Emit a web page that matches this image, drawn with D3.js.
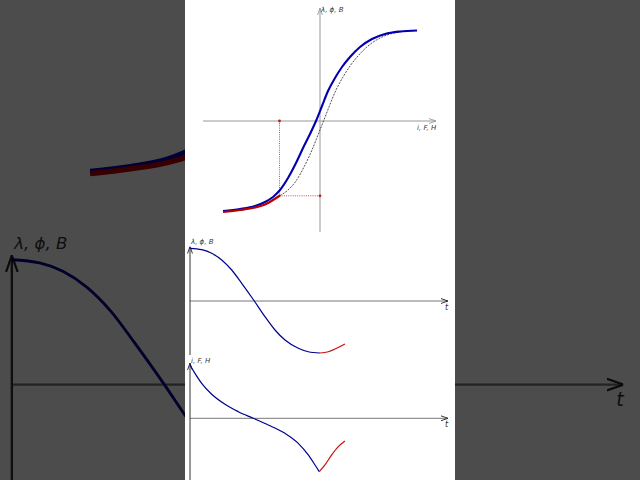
<!DOCTYPE html>
<html>
<head>
<meta charset="utf-8">
<script src="https://cdn.jsdelivr.net/npm/d3@7"></script>
<style>
  html, body { margin: 0; padding: 0; background: #4d4d4d; }
  svg { display: block; }
  text { font-family: "DejaVu Sans", sans-serif; font-style: italic; fill: #333; }
</style>
</head>
<body>
<svg id="chart" width="640" height="480"></svg>
<script>
// magnetisation curve, flux vs current (H in units, B in units)
var curveH  = [-0.97,-0.80,-0.65,-0.55,-0.47,-0.40,-0.32,-0.24,-0.16,-0.10,-0.04,0.02,0.08,0.15,0.22,0.30,0.40,0.52,0.65,0.80,0.97];
var curveB  = [-0.90,-0.88,-0.85,-0.81,-0.76,-0.69,-0.57,-0.42,-0.25,-0.13,0.00,0.15,0.30,0.43,0.54,0.64,0.74,0.82,0.87,0.895,0.905];
// initial (red) branch
var startH  = [-0.97,-0.80,-0.65,-0.55,-0.47,-0.40];
var startB  = [-0.91,-0.89,-0.865,-0.835,-0.79,-0.745];
// dashed reference curve
var dashH   = [-0.40,-0.32,-0.24,-0.16,-0.08,-0.02,0.035,0.09,0.16,0.23,0.30,0.38,0.48,0.60,0.74,0.94];
var dashB   = [-0.745,-0.69,-0.60,-0.46,-0.29,-0.14,0.00,0.14,0.31,0.44,0.55,0.65,0.75,0.83,0.88,0.903];
// operating point
var markH = -0.405, markB = -0.748;

// flux over time
var fluxT    = [0,0.09,0.167,0.244,0.321,0.398,0.495,0.577,0.654,0.731,0.833,0.91,1.0];
var fluxV    = [0.994,0.968,0.90,0.774,0.585,0.334,0.0,-0.296,-0.547,-0.736,-0.892,-0.957,-0.981];
var fluxRedT = [1.0,1.064,1.128,1.192];
var fluxRedV = [-0.981,-0.957,-0.892,-0.811];
// current over time
var currT    = [0,0.038,0.09,0.167,0.269,0.372,0.487,0.602,0.731,0.833,0.91,0.962,0.995];
var currV    = [1.0,0.849,0.66,0.453,0.264,0.125,0.0,-0.126,-0.283,-0.472,-0.692,-0.881,-1.007];
var currRedT = [0.995,1.038,1.09,1.141,1.192];
var currRedV = [-1.007,-0.88,-0.692,-0.536,-0.428];

var topYLabel = "λ, ϕ, B", topXLabel = "i, F, H";
var midYLabel = "λ, ϕ, B", botYLabel = "i, F, H", timeLabel = "t";

var svg = d3.select("#chart");
var defs = svg.append("defs");

function arrow(id, colour) {
  defs.append("marker").attr("id", id)
    .attr("viewBox", "0 0 10 10").attr("refX", 10).attr("refY", 5)
    .attr("markerWidth", 7).attr("markerHeight", 7).attr("markerUnits", "userSpaceOnUse")
    .attr("orient", "auto")
    .append("path").attr("d", "M0,1.5 L10,5 L0,8.5")
    .attr("fill", "none").attr("stroke", colour).attr("stroke-width", 1.3);
}
arrow("arrGray", "#999");
arrow("arrDark", "#222");

function zip(a, b) { return a.map(function(v, i) { return [v, b[i]]; }); }

// the panel is drawn once, then shown twice (blown-up dark backdrop + real size)
var panel = defs.append("g").attr("id", "panel");
panel.append("rect").attr("width", 270).attr("height", 480).attr("fill", "#fff");

// ---- top: B-H curve
var x = d3.scaleLinear().domain([-1.17, 1.16]).range([18, 251]);
var y = d3.scaleLinear().domain([-1.11, 1.13]).range([232, 8]);
var line = d3.line().x(function(d){return x(d[0]);}).y(function(d){return y(d[1]);}).curve(d3.curveMonotoneX);

panel.append("line").attr("x1", x(-1.17)).attr("x2", x(1.16)).attr("y1", y(0)).attr("y2", y(0))
  .attr("stroke", "#999").attr("stroke-width", 1).attr("marker-end", "url(#arrGray)");
panel.append("line").attr("x1", x(0)).attr("x2", x(0)).attr("y1", y(-1.11)).attr("y2", y(1.13))
  .attr("stroke", "#999").attr("stroke-width", 1).attr("marker-end", "url(#arrGray)");

panel.append("path").attr("d", "M" + x(markH) + "," + y(0) + "V" + y(markB) + "H" + x(0))
  .attr("fill", "none").attr("stroke", "#c02020").attr("stroke-width", 0.8).attr("stroke-dasharray", "1,1.2");

panel.append("path").attr("d", line(zip(dashH, dashB)))
  .attr("fill", "none").attr("stroke", "#000").attr("stroke-width", 0.7).attr("stroke-dasharray", "2,1.2");
panel.append("path").attr("d", line(zip(curveH, curveB)))
  .attr("fill", "none").attr("stroke", "#0000b0").attr("stroke-width", 2.1);
panel.append("path").attr("d", line(zip(startH, startB)))
  .attr("fill", "none").attr("stroke", "#b80000").attr("stroke-width", 2.2);

panel.selectAll(".mark").data([[markH, 0], [0, markB]]).enter().append("circle")
  .attr("cx", function(d){return x(d[0]);}).attr("cy", function(d){return y(d[1]);})
  .attr("r", 1.4).attr("fill", "#b02020");

panel.append("text").attr("x", x(0) + 1).attr("y", 12).attr("font-size", 7).text(topYLabel);
panel.append("text").attr("x", x(0.97)).attr("y", y(0) + 9).attr("font-size", 7).text(topXLabel);

// ---- time plots
var t = d3.scaleLinear().domain([0, 1.985]).range([5, 263]);
function timePlot(yScale, yTop, yBottom, label, labelY, blueT, blueV, redT, redV) {
  var l = d3.line().x(function(d){return t(d[0]);}).y(function(d){return yScale(d[1]);}).curve(d3.curveMonotoneX);
  panel.append("line").attr("x1", t(0)).attr("x2", t(1.985)).attr("y1", yScale(0)).attr("y2", yScale(0))
    .attr("stroke", "#777").attr("stroke-width", 1).attr("marker-end", "url(#arrDark)");
  panel.append("line").attr("x1", t(0)).attr("x2", t(0)).attr("y1", yBottom).attr("y2", yTop)
    .attr("stroke", "#333").attr("stroke-width", 1).attr("marker-end", "url(#arrDark)");
  panel.append("path").attr("d", l(zip(blueT, blueV)))
    .attr("fill", "none").attr("stroke", "#000090").attr("stroke-width", 1.2);
  panel.append("path").attr("d", l(zip(redT, redV)))
    .attr("fill", "none").attr("stroke", "#c81010").attr("stroke-width", 1.2);
  panel.append("text").attr("x", t(0) + 1).attr("y", labelY).attr("font-size", 7).text(label);
  panel.append("text").attr("x", t(1.985) - 1.5).attr("y", yScale(0) + 9).attr("font-size", 8)
    .attr("text-anchor", "middle").text(timeLabel);
}
var y2 = d3.scaleLinear().domain([-1, 1]).range([354, 248]);
var y3 = d3.scaleLinear().domain([-1, 1]).range([471.3, 365.3]);
timePlot(y2, 246.5, 355, midYLabel, 244, fluxT, fluxV, fluxRedT, fluxRedV);
timePlot(y3, 363, 480, botYLabel, 363, currT, currV, currRedT, currRedV);

// backdrop: panel stretched to full width, dimmed
var k = 640 / 270;
svg.append("use").attr("href", "#panel")
  .attr("transform", "translate(0," + (480 - 480 * k) / 2 + ") scale(" + k + ")");
svg.append("rect").attr("width", 640).attr("height", 480).attr("fill", "#000").attr("opacity", 0.7);
// real-size panel in the middle
svg.append("use").attr("href", "#panel").attr("transform", "translate(185,0)");
</script>
</body>
</html>
